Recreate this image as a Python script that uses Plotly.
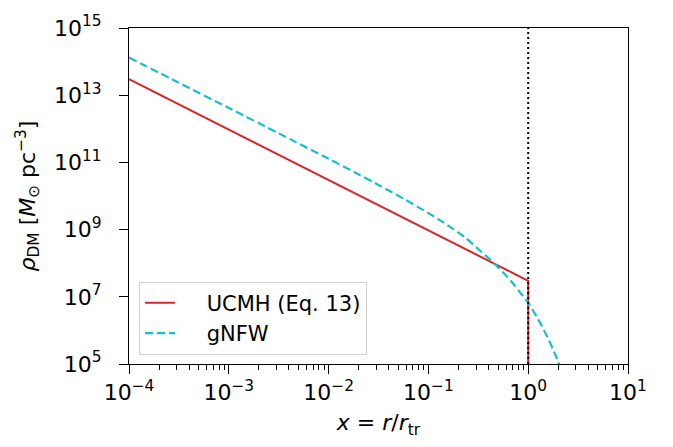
import plotly.graph_objects as go

# --- data ---
ucmh_x = [1e-4, 1.0, 1.0]
ucmh_rho = [3.0e13, 3.0e7, 1.0e5]

gnfw_x = [1e-4, 3.16e-4, 1e-3, 3.16e-3, 1e-2, 1.78e-2, 3.16e-2, 5.62e-2, 0.1,
          0.1334, 0.178, 0.2371, 0.316, 0.4217, 0.562, 0.668, 0.794, 0.891, 1.0,
          1.122, 1.259, 1.4125, 1.585, 1.778, 1.995, 2.239]
gnfw_rho = [1.32e14, 2.34e13, 4.17e12, 7.35e11, 1.28e11, 5.27e10, 2.13e10, 8.36e9,
            3.09e9, 1.82e9, 1.03e9, 5.6e8, 2.63e8, 1.23e8, 5.25e7, 3.0e7, 1.58e7,
            1.03e7, 6.6e6, 3.83e6, 2.14e6, 1.13e6, 5.7e5, 2.68e5, 1.17e5, 4.8e4]

rtr_x = [1.0, 1.0]
rtr_y = [1e5, 1e15]

x_tickvals = [1e-4, 1e-3, 1e-2, 1e-1, 1e0, 1e1]
x_ticktext = ["10<sup>−4</sup>", "10<sup>−3</sup>", "10<sup>−2</sup>",
              "10<sup>−1</sup>", "10<sup>0</sup>", "10<sup>1</sup>"]
y_tickvals = [1e5, 1e7, 1e9, 1e11, 1e13, 1e15]
y_ticktext = ["10<sup>5</sup>", "10<sup>7</sup>", "10<sup>9</sup>",
              "10<sup>11</sup>", "10<sup>13</sup>", "10<sup>15</sup>"]

x_minor = [m * 10.0 ** e for e in range(-4, 1) for m in range(2, 10)]

FONT = "DejaVu Sans"
PAD = "\u00a0\u00a0\u00a0\u00a0"   # visual gap between legend sample and label

fig = go.Figure()
fig.add_trace(go.Scatter(x=ucmh_x, y=ucmh_rho, mode="lines", name=PAD + "UCMH (Eq. 13)",
                         line=dict(color="#d62728", width=2)))
fig.add_trace(go.Scatter(x=gnfw_x, y=gnfw_rho, mode="lines", name=PAD + "gNFW",
                         line=dict(color="#17becf", width=2.2, dash="8px,4px",
                                   shape="spline", smoothing=0.6)))
fig.add_trace(go.Scatter(x=rtr_x, y=rtr_y, mode="lines", showlegend=False,
                         line=dict(color="black", width=2, dash="2px,3px")))

fig.update_layout(
    width=673, height=447,
    margin=dict(l=129, r=45, t=16, b=83),
    paper_bgcolor="white", plot_bgcolor="white",
    font=dict(family=FONT, size=22, color="black"),
    showlegend=True,
    legend=dict(x=0.02, y=0.245, xanchor="left", yanchor="top",
                bgcolor="rgba(255,255,255,0.8)", bordercolor="#d0d0d0", borderwidth=1,
                tracegroupgap=0, font=dict(family=FONT, size=21)),
)
fig.update_xaxes(
    type="log", range=[-4, 1],
    tickmode="array", tickvals=x_tickvals, ticktext=x_ticktext,
    ticks="outside", ticklen=9, tickwidth=1, tickcolor="black",
    showline=True, linecolor="black", linewidth=1, mirror=True,
    showgrid=False, zeroline=False,
    tickfont=dict(family=FONT, size=22),
    minor=dict(tickmode="array", tickvals=x_minor, ticks="outside", ticklen=5,
               tickwidth=0.8, tickcolor="black", showgrid=False),
    title=dict(text="<i>x</i> = <i>r</i>/<i>r</i><sub>tr</sub>", standoff=10,
               font=dict(family=FONT, size=22)),
)
fig.update_yaxes(
    type="log", range=[5, 15],
    tickmode="array", tickvals=y_tickvals, ticktext=y_ticktext,
    ticks="outside", ticklen=9, tickwidth=1, tickcolor="black",
    showline=True, linecolor="black", linewidth=1, mirror=True,
    showgrid=False, zeroline=False,
    tickfont=dict(family=FONT, size=22),
    ticklabelstandoff=13,
    title=dict(text="<i>ρ</i><sub>DM</sub> [<i>M</i><sub>⊙</sub> pc<sup>−3</sup>]",
               standoff=12, font=dict(family=FONT, size=22)),
)

fig.write_html("out.html")
